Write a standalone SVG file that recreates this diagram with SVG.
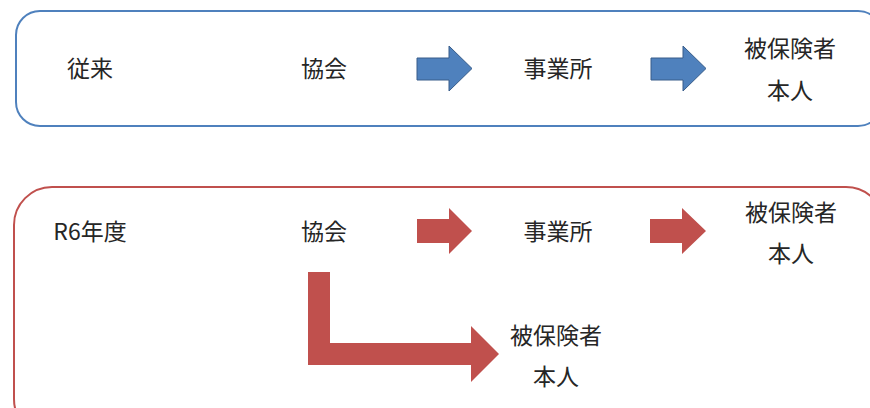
<svg xmlns="http://www.w3.org/2000/svg" width="870" height="408" viewBox="0 0 870 408">
<style>
.t{font-family:"Noto Sans CJK JP","Noto Sans",sans-serif;font-size:23px;fill:#262626;text-anchor:middle;dominant-baseline:central}
.bbox{fill:#fff;stroke:#4F81BD;stroke-width:2}
.rbox{fill:#fff;stroke:#C0504D;stroke-width:2}
.ba{fill:#4F81BD;stroke:#385D8A;stroke-width:1}
.ra{fill:#C0504D;stroke:none}
</style>
<g id="panel-old">
<rect class="bbox" x="16" y="11" width="866" height="115" rx="24" ry="24"/>
</g>
<g id="panel-r6">
<rect class="rbox" x="14" y="187" width="870" height="250" rx="38" ry="38"/>
</g>
<g id="label-old"><text class="t" x="90" y="67">従来</text></g>
<g id="old-kyokai"><text class="t" x="324" y="67">協会</text></g>
<g id="old-jigyosho"><text class="t" x="558" y="67">事業所</text></g>
<g id="old-hihokensha"><text class="t" x="790" y="47">被保険者</text><text class="t" x="790" y="89">本人</text></g>
<g id="label-r6"><text class="t" x="90" y="230">R6年度</text></g>
<g id="r6-kyokai"><text class="t" x="324" y="230">協会</text></g>
<g id="r6-jigyosho"><text class="t" x="558" y="230">事業所</text></g>
<g id="r6-hihokensha"><text class="t" x="791" y="211">被保険者</text><text class="t" x="791" y="252">本人</text></g>
<g id="r6-hihokensha-direct"><text class="t" x="556" y="334">被保険者</text><text class="t" x="556" y="375">本人</text></g>
<g id="connectors">
<polygon class="ba" points="417,58 449,58 449,46 472,68.5 449,91 449,80 417,80"/>
<polygon class="ba" points="651,58 683,58 683,46 706,68.5 683,91 683,80 651,80"/>
<polygon class="ra" points="417,219 449,219 449,208 472,231 449,254 449,243 417,243"/>
<polygon class="ra" points="650,219 682,219 682,208 706,231 682,254 682,243 650,243"/>
<polygon class="ra" points="308,272 330,272 330,343 471,343 471,326 499,354 471,382 471,365 308,365"/>
</g>
</svg>
